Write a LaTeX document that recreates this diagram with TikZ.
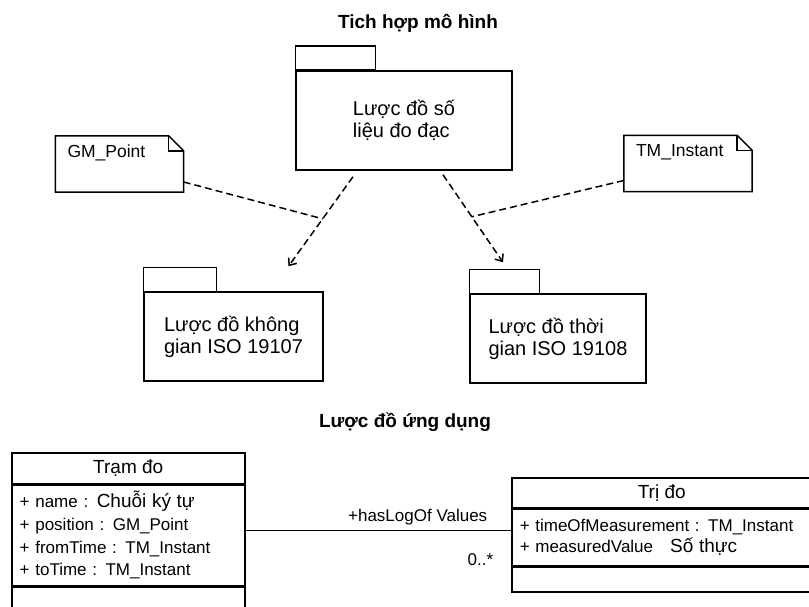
\documentclass[tikz,border=0pt]{standalone}
\usepackage{fontspec}
\setmainfont{Liberation Sans}
\usetikzlibrary{arrows.meta,positioning,calc}

\newcommand{\vnbig}[1]{{\fontsize{19}{22}\selectfont #1}}

\begin{document}
\begin{tikzpicture}[
    x=1pt, y=-1pt,
    pkg/.style={draw, line width=1.5pt, align=left, inner sep=0pt, font=\fontsize{20}{22}\selectfont},
    note/.style={inner sep=0pt, minimum width=128, minimum height=56},
    noteline/.style={line width=1.5pt},
    notetext/.style={anchor=north west, inner sep=0pt, xshift=12pt, yshift=-9pt, font=\fontsize{17.5}{20}\selectfont},
    dep/.style={dash pattern=on 7pt off 4pt, line width=1.5pt, -{Straight Barb[length=6pt,width=10pt]}},
    link/.style={dash pattern=on 7pt off 4pt, line width=1.5pt},
    title/.style={font=\bfseries\fontsize{19}{22}\selectfont},
    clsname/.style={draw, line width=1.5pt, inner sep=0pt, font=\fontsize{19}{22}\selectfont},
    clsattr/.style={draw, line width=1.5pt, inner xsep=8pt, inner ysep=0pt, align=left, font=\fontsize{17}{22.7}\selectfont},
    assoc/.style={line width=1.5pt}
]
\fill[white] (0,0) rectangle (809,607);
\clip (0,0) rectangle (809,607);

% mo hinh tich hop
\node[title] (tichHop) at (418,23) {Tich hợp mô hình};
\node[pkg, minimum width=216, minimum height=99] (soLieu) at (404,120.5) {Lược đồ số\\liệu đo đạc};
\draw[pkg] (soLieu.north west) rectangle ++(80,-24);

\node[pkg, minimum width=179, minimum height=89] (khongGian) at (233.5,336.5) {Lược đồ không\\gian ISO 19107};
\draw[pkg] (khongGian.north west) rectangle ++(73,-24);
\node[pkg, minimum width=176, minimum height=89] (thoiGian) at (558,338.5) {Lược đồ thời\\gian ISO 19108};
\draw[pkg] (thoiGian.north west) rectangle ++(70,-24);

% ghi chu
\node[note, label={[notetext]north west:GM\_Point}] (gmPoint) at (119.5,164) {};
\draw[noteline] (gmPoint.south west) |- ([xshift=-15pt]gmPoint.north east)
    -- ([yshift=-15pt]gmPoint.north east) |- (gmPoint.south west) -- cycle;
\draw[noteline] ([xshift=-15pt]gmPoint.north east) |- ([yshift=-15pt]gmPoint.north east);
\node[note, label={[notetext]north west:TM\_Instant}] (tmInstant) at (688,163.5) {};
\draw[noteline] (tmInstant.south west) |- ([xshift=-15pt]tmInstant.north east)
    -- ([yshift=-15pt]tmInstant.north east) |- (tmInstant.south west) -- cycle;
\draw[noteline] ([xshift=-15pt]tmInstant.north east) |- ([yshift=-15pt]tmInstant.north east);

% phu thuoc
\draw[dep] ([xshift=-51pt,yshift=-6pt]soLieu.south) -- coordinate[pos=0.47] (jL) ([xshift=55pt,yshift=25pt]khongGian.north);
\draw[dep] ([xshift=39pt,yshift=-4pt]soLieu.south) -- coordinate[pos=0.48] (jR) ([xshift=-55pt,yshift=31pt]thoiGian.north);
\draw[link] ([yshift=-18pt]gmPoint.east) -- (jL);
\draw[link] ([yshift=-17pt]tmInstant.west) -- (jR);

% luoc do ung dung
\node[title] (ungDung) at (405,422) {Lược đồ ứng dụng};

\node[clsname, minimum width=233, minimum height=31, anchor=north west] (tramDo) at (11,452) {Trạm đo};
\node[clsattr, minimum width=233, minimum height=100, text width=217pt, anchor=north] (tramDoAttr) at (tramDo.south)
    {+ name : \vnbig{Chuỗi ký tự}\\+ position : GM\_Point\\+ fromTime : TM\_Instant\\+ toTime : TM\_Instant};
\node[clsname, minimum width=233, minimum height=60, anchor=north] (tramDoOp) at (tramDoAttr.south) {};

\node[clsname, minimum width=300, minimum height=30, anchor=north west] (triDo) at (511,477) {Trị đo};
\node[clsattr, minimum width=300, minimum height=56, text width=284pt, anchor=north, font=\fontsize{17}{21}\selectfont] (triDoAttr) at (triDo.south)
    {+ timeOfMeasurement : TM\_Instant\\+ measuredValue \ \ \vnbig{Số thực}};
\node[clsname, minimum width=300, minimum height=25, anchor=north] (triDoOp) at (triDoAttr.south) {};

\draw[assoc] ([yshift=5pt]tramDoAttr.east) -- ([yshift=7pt]triDoAttr.west)
    node[pos=1, anchor=south east, xshift=-22pt, yshift=3pt, inner sep=1pt, font=\fontsize{17}{20}\selectfont] (vaiTro) {+hasLogOf Values}
    node[pos=1, anchor=north east, xshift=-16pt, yshift=-22pt, inner sep=1pt, font=\fontsize{17}{20}\selectfont] (boiSo) {0..*};
\end{tikzpicture}
\end{document}
